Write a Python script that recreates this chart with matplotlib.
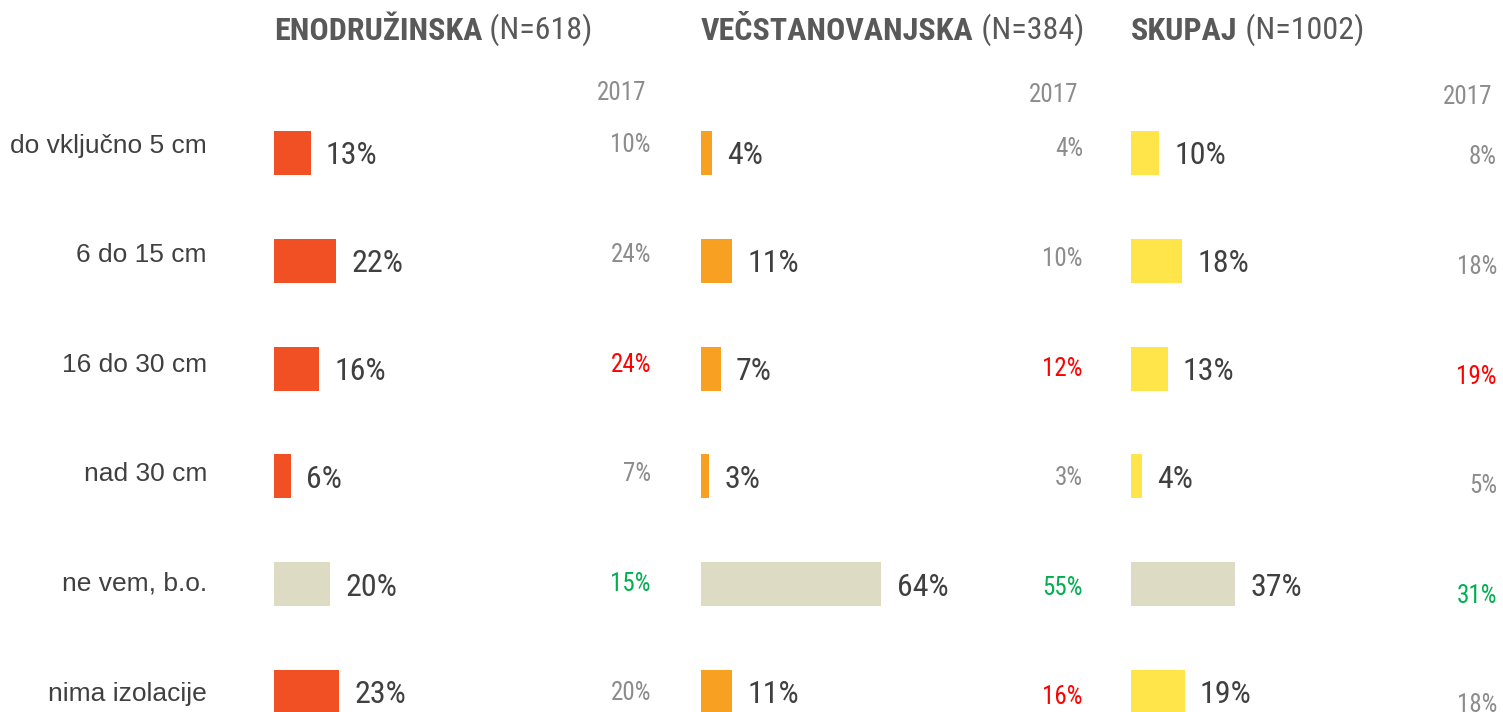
import matplotlib.pyplot as plt
from matplotlib import font_manager

# narrow face like in the original, if one is installed
installed = {f.name for f in font_manager.fontManager.ttflist}
narrow = None
for name in ["Liberation Sans Narrow", "Arial Narrow", "Roboto Condensed", "Open Sans Condensed"]:
    if name in installed:
        narrow = name
        break
if narrow:
    plt.rcParams['font.family'] = [narrow, 'Liberation Sans', 'DejaVu Sans']
    fs_title, fs_val, fs_old = 23, 23, 18
else:
    plt.rcParams['font.family'] = ['Liberation Sans', 'DejaVu Sans']
    fs_title, fs_val, fs_old = 19.5, 18.5, 15.5

# data
categories = ["do vključno 5 cm", "6 do 15 cm", "16 do 30 cm",
              "nad 30 cm", "ne vem, b.o.", "nima izolacije"]
groups = ["ENODRUŽINSKA", "VEČSTANOVANJSKA", "SKUPAJ"]
group_n = [618, 384, 1002]
values_now = [
    [13, 22, 16, 6, 20, 23],
    [4, 11, 7, 3, 64, 11],
    [10, 18, 13, 4, 37, 19],
]
values_2017 = [
    [10, 24, 24, 7, 15, 20],
    [4, 10, 12, 3, 55, 16],
    [8, 18, 19, 5, 31, 18],
]
# n = no notable change, u = red, d = green
change_2017 = [
    ["n", "n", "u", "n", "d", "n"],
    ["n", "n", "u", "n", "d", "u"],
    ["n", "n", "u", "n", "d", "n"],
]

# styling
W, H = 1503, 712
bar_colors = ["#F05023", "#F7A021", "#FFE54A"]
unknown_color = "#DDDBC3"
change_colors = {"n": "#8C8C8C", "u": "#FF0000", "d": "#00B050"}
panel_left = [274, 701, 1131]
panel_right = [651, 1083, 1497]
px_per_pct = 2.82
row_top = 153
row_step = 107.8
old_top = [143, 147, 155]      # first 2017 value (px from top)
old_hdr = [90, 93, 95]         # "2017" header (px from top)
old_step = 109.6

fig = plt.figure(figsize=(W / 100, H / 100), dpi=100)

for g in range(len(groups)):
    left = panel_left[g]
    width = panel_right[g] - left
    top = row_top - row_step / 2
    height = row_step * len(categories)
    ax = fig.add_axes([left / W, (H - top - height) / H, width / W, height / H])
    ax.set_xlim(0, width / px_per_pct)
    ax.set_ylim(len(categories) - 0.5, -0.5)
    ax.axis("off")

    colors = [unknown_color if c == "ne vem, b.o." else bar_colors[g] for c in categories]
    ax.barh(range(len(categories)), values_now[g], height=0.41, color=colors)
    for i, v in enumerate(values_now[g]):
        ax.annotate(f"{v}%", xy=(v, i), xytext=(11, 0), textcoords="offset points",
                    va="center_baseline", ha="left", fontsize=fs_val, color="#404040")

    # title: bold name + regular N
    t = fig.text(left / W, 1 - 40 / H, groups[g], fontsize=fs_title, fontweight="bold",
                 color="#595959", va="baseline")
    ax.annotate(f" (N={group_n[g]})", xy=(1, 0), xycoords=t, va="bottom", ha="left",
                fontsize=fs_title, color="#595959")

    # 2017 column
    fig.text((panel_right[g] - 5) / W, 1 - old_hdr[g] / H, "2017", fontsize=fs_old,
             color="#8C8C8C", ha="right", va="center_baseline")
    for i, v in enumerate(values_2017[g]):
        fig.text(panel_right[g] / W, 1 - (old_top[g] + i * old_step) / H, f"{v}%",
                 fontsize=fs_old, color=change_colors[change_2017[g][i]],
                 ha="right", va="center_baseline")

for i, c in enumerate(categories):
    fig.text(207 / W, 1 - (old_top[0] + i * old_step) / H, c, fontsize=19,
             family=["Liberation Sans", "DejaVu Sans"], color="#404040",
             ha="right", va="center_baseline")

fig.savefig("out.png", dpi=100)
